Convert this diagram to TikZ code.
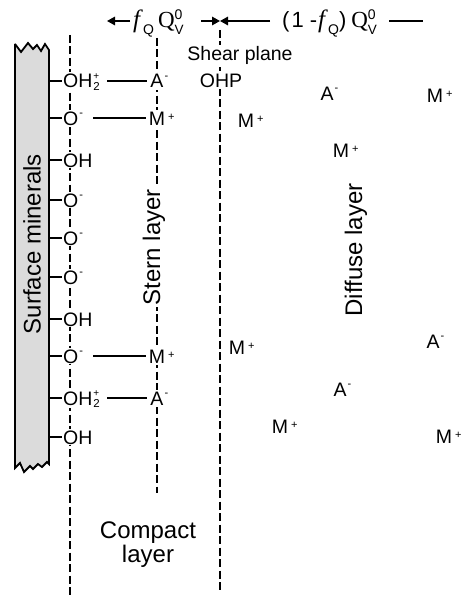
\documentclass[tikz,border=0pt]{standalone}
\usepackage{fontspec}
\setmainfont{Liberation Sans}
\newfontfamily\tms{Liberation Serif}
\usetikzlibrary{arrows.meta}

\newcommand\chpl{\hspace{3pt}\raisebox{5pt}{\fontsize{11}{11}\selectfont +}}
\newcommand\chmi{\hspace{1pt}\raisebox{9pt}{\fontsize{11}{11}\selectfont -}}
\newcommand\ohtwo{OH\makebox[0pt][l]{\hspace{1pt}\raisebox{9pt}{\fontsize{10}{10}\selectfont +}}\hspace{1pt}\raisebox{-2pt}{\fontsize{11.5}{11.5}\selectfont 2}}
\newcommand\subq{\raisebox{-7pt}{\fontsize{14}{14}\selectfont Q}}
\newcommand\qv{{\tms\fontsize{23}{23}\selectfont Q}\makebox[0pt][l]{\raisebox{8pt}{\fontsize{14}{14}\selectfont 0}}\raisebox{-7pt}{\fontsize{13.5}{13.5}\selectfont V}}
\newcommand\fq{{\tms\itshape\fontsize{25}{25}\selectfont f}\hspace{3pt}\subq}

\begin{document}
\begin{tikzpicture}[x=1pt,y=-1pt,
  lbl/.style={font=\fontsize{19.5}{22}\selectfont, inner sep=1pt},
  grp/.style={lbl, fill=white, anchor=base west},
  ion/.style={lbl, fill=white, anchor=base, inner sep=2pt},
  big/.style={font=\fontsize{24}{24}\selectfont, inner sep=2pt},
  top/.style={font=\fontsize{22}{22}\selectfont, inner sep=0pt, anchor=base west},
  dline/.style={line width=1.9pt, dash pattern=on 8pt off 3.5pt},
  bond/.style={line width=1.6pt},
  arr/.style={line width=1.6pt, -{Triangle[length=8pt,width=8.5pt]}}
]
\path[use as bounding box] (0,0) rectangle (461,602);

% surface mineral block
\draw[line width=1.8pt, fill=black!14, line join=miter, miter limit=3]
 (15,44) -- (21,52) -- (28,43) -- (33,49) -- (37,45) -- (41,51) -- (45,44) -- (49,50)
 -- (49,464) -- (47,462) -- (42,467) -- (38,464) -- (33,469) -- (30,466) -- (24,472)
 -- (20,463) -- (15,468) -- cycle;
\node[big, rotate=90] (surf) at (32,244) {Surface minerals};

% dashed planes
\coordinate (c1t) at (70,35);  \coordinate (c1b) at (70,598);
\coordinate (c2t) at (157,38); \coordinate (c2b) at (157,493);
\coordinate (c3t) at (220,30); \coordinate (c3b) at (220,593);
\draw[dline] (c1t) -- (c1b);
\draw[dline] (c2t) -- (c2b);
\draw[dline] (c3t) -- (c3b);

% rows
\coordinate (edge) at (49,0);
\coordinate (r1) at (0,81);  \coordinate (r2) at (0,118);
\coordinate (r3) at (0,160); \coordinate (r4) at (0,200);
\coordinate (r5) at (0,238); \coordinate (r6) at (0,277);
\coordinate (r7) at (0,319); \coordinate (r8) at (0,356);
\coordinate (r9) at (0,398); \coordinate (r10) at (0,437);

\node[grp] (g1) at (62,88) {\ohtwo};
\node[grp] (g2) at (62,125) {O\chmi};
\node[grp] (g3) at (62,167) {OH};
\node[grp] (g4) at (62,207) {O\chmi};
\node[grp] (g5) at (62,245) {O\chmi};
\node[grp] (g6) at (62,284) {O\chmi};
\node[grp] (g7) at (62,326) {OH};
\node[grp] (g8) at (62,363) {O\chmi};
\node[grp] (g9) at (62,405) {\ohtwo};
\node[grp] (g10) at (62,444) {OH};

\foreach \i in {1,...,10}
  \draw[bond] (edge |- r\i) -- (g\i.west |- r\i);

% Stern ions
\node[ion] (s1) at (157,88) {A\rlap{\chmi}};
\node[ion] (s2) at (157,125) {M\rlap{\chpl}};
\node[ion] (s3) at (157,363) {M\rlap{\chpl}};
\node[ion] (s4) at (157,405) {A\rlap{\chmi}};
\draw[bond] ([xshift=6pt]g1.east |- r1) -- ([xshift=-1.5pt]s1.west |- r1);
\draw[bond] ([xshift=9pt]g2.east |- r2) -- ([xshift=-1pt]s2.west |- r2);
\draw[bond] ([xshift=9pt]g8.east |- r8) -- ([xshift=-1pt]s3.west |- r8);
\draw[bond] ([xshift=6pt]g9.east |- r9) -- ([xshift=-1.5pt]s4.west |- r9);

\node[big, fill=white, rotate=90] (stern) at (154,247) {Stern layer};

% shear plane / OHP
\node[lbl, fill=white, anchor=base, inner sep=2pt] (shear) at (240,61) {Shear plane};
\node[lbl, fill=white, anchor=base, inner sep=2pt] (ohp) at (221,87) {OHP};

% diffuse ions
\node[ion] (d1) at (327,100) {A\rlap{\chmi}};
\node[ion] (d2) at (435,102) {M\rlap{\chpl}};
\node[ion] (d3) at (246,127) {M\rlap{\chpl}};
\node[ion] (d4) at (341,157) {M\rlap{\chpl}};
\node[ion] (d5) at (237,354) {M\rlap{\chpl}};
\node[ion] (d6) at (433,348) {A\rlap{\chmi}};
\node[ion] (d7) at (340,396) {A\rlap{\chmi}};
\node[ion] (d8) at (280,433) {M\rlap{\chpl}};
\node[ion] (d9) at (444,443) {M\rlap{\chpl}};

\node[big, rotate=90] (diffuse) at (356,250) {Diffuse layer};
\node[big, align=center, inner sep=0pt] (compact) at (148,545) {Compact\\layer};

% top charge partition
\node[top] (fl) at (133,28) {\fq\hspace{4pt}\qv};
\node[top] (fr) at (282,28) {(\hspace{2pt}1 -\hspace{1pt}\fq)\hspace{5pt}\qv};
\coordinate (al) at (107,21);  \coordinate (alt) at (130,21);
\coordinate (m) at (220,21);   \coordinate (mlt) at (201,21);
\coordinate (mrt) at (270,21);
\coordinate (re1) at (389,21); \coordinate (re2) at (423,21);
\draw[arr] (alt) -- (al);
\draw[arr] (mlt) -- (m);
\draw[arr] (mrt) -- (m);
\draw[bond] (re1) -- (re2);
\end{tikzpicture}
\end{document}
